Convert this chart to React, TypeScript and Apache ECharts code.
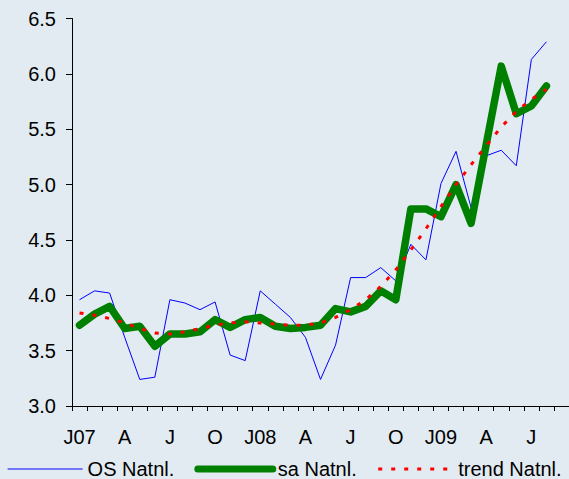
import React, { useEffect, useRef } from "react";
import * as echarts from "echarts";

const categories = [
  "J07", "F", "M", "A", "M", "J", "J", "A", "S", "O", "N", "D",
  "J08", "F", "M", "A", "M", "J", "J", "A", "S", "O", "N", "D",
  "J09", "F", "M", "A", "M", "J", "J", "A", "S",
];

const osNatnl = [
  3.96, 4.04, 4.02, 3.62, 3.24, 3.26, 3.96, 3.93, 3.87, 3.94, 3.46, 3.41,
  4.04, 3.92, 3.80, 3.62, 3.24, 3.55, 4.16, 4.16, 4.25, 4.13, 4.46, 4.32,
  5.01, 5.30, 4.79, 5.26, 5.31, 5.17, 6.13, 6.29, null,
];

const saNatnl = [
  3.73, 3.83, 3.90, 3.70, 3.72, 3.54, 3.65, 3.65, 3.67, 3.78, 3.71, 3.78,
  3.80, 3.72, 3.70, 3.71, 3.73, 3.88, 3.85, 3.90, 4.04, 3.96, 4.78, 4.78,
  4.71, 5.00, 4.65, 5.36, 6.07, 5.64, 5.71, 5.89, null,
];

const trendNatnl = [
  3.84, 3.82, 3.79, 3.75, 3.70, 3.66, 3.65, 3.67, 3.70, 3.73, 3.75, 3.76,
  3.75, 3.74, 3.73, 3.73, 3.75, 3.80, 3.87, 3.96, 4.08, 4.23, 4.41, 4.60,
  4.80, 5.00, 5.18, 5.35, 5.52, 5.66, 5.77, 5.86, null,
];

const FONT = "'Liberation Sans', Arial, sans-serif";

export default function App() {
  const ref = useRef<HTMLDivElement>(null);

  useEffect(() => {
    if (!ref.current) return;
    const chart = echarts.init(ref.current, undefined, { renderer: "svg" });
    chart.setOption({
      animation: false,
      backgroundColor: "#e2ebf1",
      grid: { left: 72, right: -3, top: 18.5, bottom: 73, containLabel: false },
      legend: {
        left: 7,
        top: 459,
        padding: 0,
        itemWidth: 75,
        itemHeight: 20,
        itemGap: 20,
        itemStyle: { opacity: 0 },
        textStyle: { fontSize: 20, fontFamily: FONT, color: "#000" },
        data: [
          { name: "OS Natnl.", lineStyle: { width: 1.2 } },
          { name: "sa Natnl.", lineStyle: { width: 7, cap: "round" } },
          { name: "trend Natnl.", lineStyle: { width: 3 } },
        ],
      },
      xAxis: {
        type: "category",
        data: categories,
        boundaryGap: true,
        axisLine: { lineStyle: { color: "#000", width: 1 } },
        axisTick: { show: true, interval: 0, length: 5, lineStyle: { color: "#000" } },
        axisLabel: {
          interval: 2,
          margin: 21,
          fontSize: 20,
          fontFamily: FONT,
          color: "#000",
        },
        splitLine: { show: false },
      },
      yAxis: {
        type: "value",
        min: 3.0,
        max: 6.5,
        interval: 0.5,
        axisLine: { show: true, lineStyle: { color: "#000", width: 1 } },
        axisTick: { show: true, length: 6, lineStyle: { color: "#000" } },
        axisLabel: {
          margin: 16,
          fontSize: 20,
          fontFamily: FONT,
          color: "#000",
          formatter: (v: number) => v.toFixed(1),
        },
        splitLine: { show: false },
      },
      series: [
        {
          name: "OS Natnl.",
          type: "line",
          data: osNatnl,
          symbol: "none",
          lineStyle: { color: "#0000ff", width: 1 },
          itemStyle: { color: "#0000ff" },
          z: 2,
        },
        {
          name: "sa Natnl.",
          type: "line",
          data: saNatnl,
          symbol: "none",
          lineStyle: { color: "#008000", width: 7.5, cap: "round", join: "round" },
          itemStyle: { color: "#008000" },
          z: 3,
        },
        {
          name: "trend Natnl.",
          type: "line",
          data: trendNatnl,
          symbol: "none",
          lineStyle: { color: "#ff0000", width: 3, type: [4, 9] },
          itemStyle: { color: "#ff0000" },
          z: 4,
        },
      ],
    });
    return () => chart.dispose();
  }, []);

  return (
    <div
      ref={ref}
      style={{ position: "fixed", left: 0, top: 0, width: 569, height: 479 }}
    />
  );
}
